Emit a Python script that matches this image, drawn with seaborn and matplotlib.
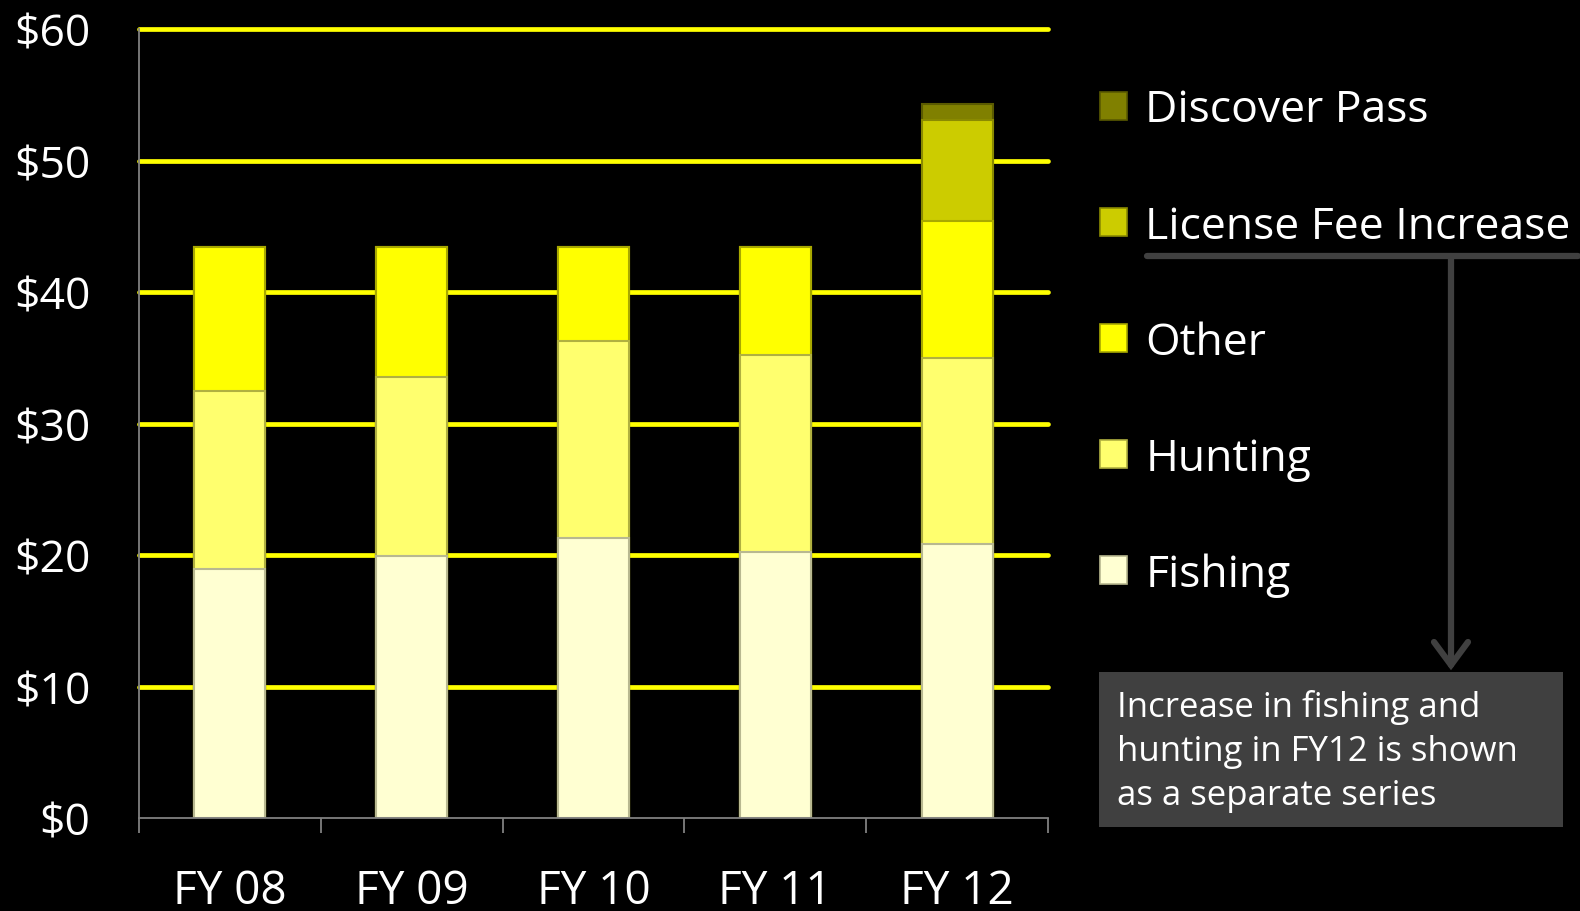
import matplotlib
matplotlib.use("Agg")
import matplotlib.pyplot as plt
from matplotlib.patches import Patch, Rectangle
from matplotlib.lines import Line2D
import numpy as np
import pandas as pd
import seaborn as sns

# Revenue by fiscal year, in millions of dollars
years = ["FY 08", "FY 09", "FY 10", "FY 11", "FY 12"]
fishing = [18.9, 19.9, 21.3, 20.2, 20.8]
hunting = [13.6, 13.6, 15.0, 15.0, 14.2]
other = [10.9, 9.9, 7.1, 8.2, 10.4]
license_fee_increase = [0.0, 0.0, 0.0, 0.0, 7.7]
discover_pass = [0.0, 0.0, 0.0, 0.0, 1.2]

series_names = ["Fishing", "Hunting", "Other", "License Fee Increase", "Discover Pass"]
series_values = [fishing, hunting, other, license_fee_increase, discover_pass]
face_colors = ["#FFFFD2", "#FFFF6E", "#FFFF00", "#CCCC00", "#808000"]
edge_colors = ["#B8B890", "#B0B040", "#A8A800", "#8A8A00", "#5A5A00"]

y_ticks = [0, 10, 20, 30, 40, 50, 60]
y_tick_labels = [f"${v}" for v in y_ticks]

note_text = "Increase in fishing and\nhunting in FY12 is shown\nas a separate series"

# Long table with running totals so each layer can be drawn as a full bar
rows = []
for yi, yr in enumerate(years):
    running = 0.0
    for name, vals in zip(series_names, series_values):
        running += vals[yi]
        rows.append({"year": yr, "series": name, "value": vals[yi], "top": running})
df = pd.DataFrame(rows)

sns.set_theme(style="dark")
plt.rcParams["font.family"] = ["Open Sans", "DejaVu Sans"]

W, H = 1580, 912
fig = plt.figure(figsize=(W / 100, H / 100), dpi=100, facecolor="black")
ax = fig.add_axes([139 / W, 1 - 819 / H, (1048 - 139) / W, (819 - 30) / H])
ax.set_facecolor("black")

# Yellow gridlines behind the bars
for v in y_ticks[1:]:
    ax.axhline(v, color="#FFFF00", lw=3.4, zorder=0, clip_on=False)

# Draw the tallest running total first so lower layers sit on top
for name, fc, ec in reversed(list(zip(series_names, face_colors, edge_colors))):
    sub = df[df["series"] == name]
    sns.barplot(data=sub, x="year", y="top", order=years, color=fc, width=0.39,
                edgecolor=ec, linewidth=1.5, saturation=1, ax=ax, zorder=2)

ax.set_xlim(-0.5, len(years) - 0.5)
ax.set_ylim(0, 60)
ax.set_xlabel("")
ax.set_ylabel("")
ax.grid(False)

ax.set_yticks(y_ticks)
ax.set_yticklabels(y_tick_labels, color="white", fontsize=32)
ax.tick_params(axis="y", direction="out", length=12, width=1.3, color="#808080", pad=23)

ax.set_xticks(range(len(years)))
ax.set_xticklabels(years, color="white", fontsize=33)
ax.tick_params(axis="x", which="major", length=0, pad=36)
ax.set_xticks(np.arange(-0.5, len(years), 1.0), minor=True)
ax.tick_params(axis="x", which="minor", direction="out", length=11, width=1.3,
               color="#808080", bottom=True)

for side in ["top", "right"]:
    ax.spines[side].set_visible(False)
for side in ["left", "bottom"]:
    ax.spines[side].set_color("#808080")
    ax.spines[side].set_linewidth(1.3)
    ax.spines[side].set_zorder(3)

# Legend, top entry is the top layer
handles = [Patch(facecolor=fc, edgecolor=ec, linewidth=1.2)
           for fc, ec in zip(face_colors, edge_colors)]
leg = fig.legend(handles[::-1], series_names[::-1], loc="upper left",
                 bbox_to_anchor=(1100 / W, 1 - 89 / H), frameon=False,
                 fontsize=32, handlelength=0.6, handleheight=0.6,
                 handletextpad=0.42, labelspacing=1.61, borderpad=0, borderaxespad=0)
for t in leg.get_texts():
    t.set_color("white")


def fx(px):
    return px / W


def fy(py):
    return 1 - py / H


# Bracket under the license fee entry with a downward arrow
line_col = "#404040"
fig.add_artist(Line2D([fx(1147), fx(1578)], [fy(257), fy(257)], color=line_col,
                      lw=4.5, transform=fig.transFigure))
fig.add_artist(Line2D([fx(1451), fx(1451)], [fy(257), fy(666)], color=line_col,
                      lw=4.5, transform=fig.transFigure))
fig.add_artist(Line2D([fx(1434), fx(1451), fx(1468)], [fy(643), fy(666), fy(643)],
                      color=line_col, lw=4.5, solid_capstyle="round",
                      solid_joinstyle="miter", transform=fig.transFigure))

# Note box
fig.add_artist(Rectangle((fx(1099), fy(828)), (1563 - 1099) / W, (828 - 673) / H,
                         facecolor="#404040", edgecolor="none",
                         transform=fig.transFigure))
fig.text(fx(1117), fy(690), note_text, color="white", fontsize=25,
         va="top", ha="left", linespacing=1.39)

fig.savefig("out.png", dpi=100, facecolor="black")
